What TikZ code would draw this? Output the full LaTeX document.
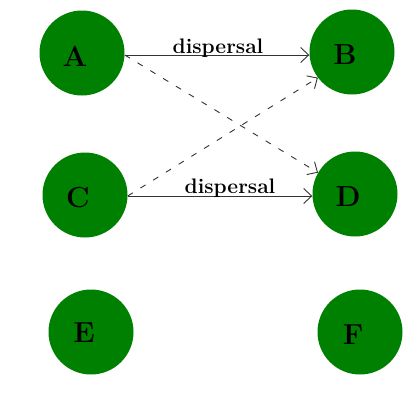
\documentclass[tikz,border=0pt]{standalone}
\usepackage{fontspec}
\setmainfont{Latin Modern Roman}
\usetikzlibrary{arrows.meta}
\definecolor{nodegreen}{HTML}{008000}
\begin{document}
\begin{tikzpicture}[x=1pt,y=-1pt,
  site/.style={circle,fill=nodegreen,minimum size=85pt,inner sep=0pt},
  lettr/.style={font=\fontsize{29}{31}\selectfont\bfseries,inner sep=0pt,xshift=-7pt,yshift=-3pt},
  flow/.style={draw=black!80,line width=0.9pt,-{Straight Barb[length=8pt,width=15pt]}},
  dflow/.style={flow,dash pattern=on 6pt off 9pt},
  lbl/.style={font=\fontsize{21}{23}\selectfont\bfseries,inner sep=0pt,anchor=base}]
\useasboundingbox (0,0) rectangle (420,392);
\node[site,label={[lettr]center:A}] (A) at (82,53) {};
\node[site,label={[lettr]center:B}] (B) at (352,52) {};
\node[site,label={[lettr]center:C}] (C) at (85,195) {};
\node[site,label={[lettr]center:D}] (D) at (355,194) {};
\node[site,label={[lettr,yshift=2pt]center:E}] (E) at (91,332) {};
\node[site,label={[lettr]center:F}] (F) at (360,332) {};
\coordinate (a1) at (A.east |- 0,55);
\coordinate (b1) at (B.west |- 0,55);
\coordinate (c1) at (C.east |- 0,196);
\coordinate (d1) at (D.west |- 0,196);
\draw[flow] (a1) -- (b1);
\draw[flow] (c1) -- (d1);
\node[lbl] (l1) at (218,53) {dispersal};
\node[lbl] (l2) at (230,193) {dispersal};
\draw[dflow] (a1) -- (D.150);
\draw[dflow] (c1) -- (B.-143);
\end{tikzpicture}
\end{document}
